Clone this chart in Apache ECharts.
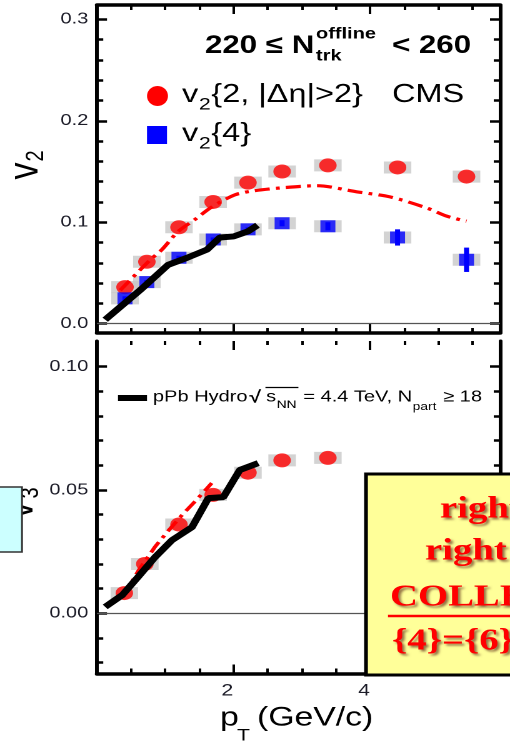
<!DOCTYPE html>
<html>
<head>
<meta charset="utf-8">
<script src="https://cdn.jsdelivr.net/npm/echarts@6/dist/echarts.min.js"></script>
<style>
  html, body { margin: 0; padding: 0; background: #fff; overflow: hidden; }
  #wrap { width: 408px; height: 743px; transform: scaleX(1.25); transform-origin: 0 0; }
  #chart { width: 408px; height: 743px; }
</style>
</head>
<body>
<div id="wrap"><div id="chart"></div></div>
<script>
// horizontal stretch of the whole figure
const S = 1.25;
const X = px => px / S;

// ---- tick positions / labels ----
const ptMajorTicks = [2, 4];
const ptMinorTicks = [0.5, 1, 1.5, 2.5, 3, 3.5, 4.5, 5, 5.5];
const v2MajorTicks = [0, 0.1, 0.2, 0.3];
const v2MinorTicks = [0.02, 0.04, 0.06, 0.08, 0.12, 0.14, 0.16, 0.18, 0.22, 0.24, 0.26, 0.28];
const v3MajorTicks = [0, 0.05, 0.1];
const v3MinorTicks = [-0.02, -0.01, 0.01, 0.02, 0.03, 0.04, 0.06, 0.07, 0.08, 0.09];

// ---- v2 panel data ----
const ptV2 = [0.41, 0.73, 1.20, 1.70, 2.21, 2.71, 3.38, 4.40, 5.41];
const v2Two = [0.036, 0.061, 0.095, 0.120, 0.139, 0.150, 0.156, 0.154, 0.145];
const v2Four = [0.025, 0.041, 0.065, 0.083, 0.093, 0.099, 0.096, 0.085, 0.063];
const v2FourErr = [0.002, 0.002, 0.002, 0.002, 0.002, 0.003, 0.004, 0.008, 0.012];

const hydroV2Pt = [0.12, 0.63, 1.04, 1.32, 1.61, 1.80, 2.00, 2.21, 2.35];
const hydroV2 = [0.004, 0.033, 0.058, 0.065, 0.073, 0.085, 0.086, 0.091, 0.097];

const curveV2Pt = [0.34, 0.78, 0.95, 1.19, 1.44, 1.68, 2.02, 2.30, 2.72, 3.22, 3.80, 4.29, 4.83, 5.12, 5.41];
const curveV2 = [0.033, 0.063, 0.073, 0.091, 0.103, 0.115, 0.127, 0.131, 0.134, 0.136, 0.130, 0.125, 0.114, 0.106, 0.101];

// ---- v3 panel data ----
const ptV3 = [0.40, 0.70, 1.20, 1.70, 2.21, 2.71, 3.38];
const v3Two = [0.0082, 0.020, 0.036, 0.048, 0.057, 0.062, 0.063];

const hydroV3Pt = [0.12, 0.37, 0.60, 0.85, 1.10, 1.39, 1.63, 1.85, 2.09, 2.36];
const hydroV3 = [0.0026, 0.0074, 0.0147, 0.0228, 0.0297, 0.0349, 0.0467, 0.0471, 0.0581, 0.0609];

const curveV3Pt = [0.38, 0.60, 0.85, 1.03, 1.25, 1.44, 1.68];
const curveV3 = [0.0066, 0.0170, 0.0270, 0.0330, 0.0400, 0.0455, 0.0528];

const zip = (a, b) => a.map((v, i) => [v, b[i]]);

const SANS = '"Liberation Sans", Arial, Helvetica, sans-serif';
const SERIF = '"Liberation Serif", "Times New Roman", serif';

// one axis drawing either the major or the minor ticks of a frame side
function frameAxis(dim, grid, position, min, max, ticks, len, o) {
  o = o || {};
  const ax = {
    type: 'value', gridIndex: grid, position, min, max,
    axisLine: { show: !!o.line, onZero: false, lineStyle: { color: '#000', width: o.lw || 3 } },
    axisTick: { show: true, inside: true, length: len, customValues: ticks,
                lineStyle: { color: '#000', width: dim === 'x' ? 2 : 2.5 } },
    axisLabel: { show: false },
    splitLine: { show: false },
    minorTick: { show: false }
  };
  if (o.labels) {
    ax.axisLabel = Object.assign({ show: true, customValues: ticks, fontSize: 16,
      fontFamily: SANS, color: '#1c1c28' }, o.labels);
  }
  return ax;
}

const g0 = { min: -0.00917, max: 0.3141 };
const g1 = { min: -0.0244, max: 0.1104 };
const ptMin = 0, ptMax = 5.9;

const xAxis = [
  frameAxis('x', 0, 'bottom', ptMin, ptMax, ptMajorTicks, 9, { line: true, lw: 3.5 }),
  frameAxis('x', 0, 'bottom', ptMin, ptMax, ptMinorTicks, 5),
  frameAxis('x', 0, 'top', ptMin, ptMax, ptMajorTicks, 9, { line: true, lw: 3.5 }),
  frameAxis('x', 0, 'top', ptMin, ptMax, ptMinorTicks, 5),
  frameAxis('x', 1, 'bottom', ptMin, ptMax, ptMajorTicks, 9, { line: true, lw: 3.5,
    labels: { margin: 9, fontSize: 17, padding: [0, 10, 0, 0], formatter: v => String(v) } }),
  frameAxis('x', 1, 'bottom', ptMin, ptMax, ptMinorTicks, 5),
  frameAxis('x', 1, 'top', ptMin, ptMax, ptMajorTicks, 9),
  frameAxis('x', 1, 'top', ptMin, ptMax, ptMinorTicks, 4)
];
const yAxis = [
  frameAxis('y', 0, 'left', g0.min, g0.max, v2MajorTicks, 8, { line: true,
    labels: { margin: 7, formatter: v => v.toFixed(1) } }),
  frameAxis('y', 0, 'left', g0.min, g0.max, v2MinorTicks, 5),
  frameAxis('y', 0, 'right', g0.min, g0.max, v2MajorTicks, 8, { line: true }),
  frameAxis('y', 0, 'right', g0.min, g0.max, v2MinorTicks, 5),
  frameAxis('y', 1, 'left', g1.min, g1.max, v3MajorTicks, 8, { line: true,
    labels: { margin: 7, formatter: v => v.toFixed(2) } }),
  frameAxis('y', 1, 'left', g1.min, g1.max, v3MinorTicks, 5),
  frameAxis('y', 1, 'right', g1.min, g1.max, v3MajorTicks, 8, { line: true }),
  frameAxis('y', 1, 'right', g1.min, g1.max, v3MinorTicks, 5)
];

const zeroLine = color => ({
  silent: true, symbol: ['none', 'none'], label: { show: false },
  lineStyle: { color, width: 1.2, type: 'solid' }, data: [{ yAxis: 0 }]
});

function sysBoxes(xi, yi, data, withZero) {
  const s = { type: 'scatter', xAxisIndex: xi, yAxisIndex: yi, data, symbol: 'rect',
    symbolSize: [22, 12], itemStyle: { color: '#c8c8c8' }, z: 1, silent: true };
  if (withZero) s.markLine = zeroLine(withZero);
  return s;
}

function errorBars(xi, yi, data, color) {
  return {
    type: 'custom', xAxisIndex: xi, yAxisIndex: yi, data, z: 2, silent: true,
    renderItem: (params, api) => {
      const x = api.value(0), y = api.value(1), e = api.value(2);
      const a = api.coord([x, y - e]), b = api.coord([x, y + e]);
      return { type: 'line', shape: { x1: a[0], y1: a[1], x2: b[0], y2: b[1] },
               style: { stroke: color, lineWidth: 4 } };
    }
  };
}

const dashDot = [12, 5, 3, 5];

const series = [
  // v2 panel
  sysBoxes(0, 0, zip(ptV2, v2Two), '#555'),
  sysBoxes(0, 0, zip(ptV2, v2Four)),
  errorBars(0, 0, ptV2.map((p, i) => [p, v2Four[i], v2FourErr[i]]), '#0000ff'),
  { type: 'scatter', xAxisIndex: 0, yAxisIndex: 0, data: zip(ptV2, v2Two), symbol: 'circle',
    symbolSize: 14, itemStyle: { color: '#ff0000' }, z: 3 },
  { type: 'scatter', xAxisIndex: 0, yAxisIndex: 0, data: zip(ptV2, v2Four), symbol: 'rect',
    symbolSize: 12, itemStyle: { color: '#0000ff' }, z: 3 },
  { type: 'line', xAxisIndex: 0, yAxisIndex: 0, data: zip(curveV2Pt, curveV2), smooth: 0.3,
    showSymbol: false, symbol: 'none', lineStyle: { color: '#ff0000', width: 3.2, type: dashDot }, z: 4 },
  { type: 'line', xAxisIndex: 0, yAxisIndex: 0, data: zip(hydroV2Pt, hydroV2),
    showSymbol: false, symbol: 'none', lineStyle: { color: '#000', width: 6 }, z: 5 },
  // v3 panel
  sysBoxes(4, 4, zip(ptV3, v3Two), '#555'),
  { type: 'scatter', xAxisIndex: 4, yAxisIndex: 4, data: zip(ptV3, v3Two), symbol: 'circle',
    symbolSize: 14, itemStyle: { color: '#ff0000' }, z: 3 },
  { type: 'line', xAxisIndex: 4, yAxisIndex: 4, data: zip(curveV3Pt, curveV3),
    showSymbol: false, symbol: 'none', lineStyle: { color: '#ff0000', width: 3.2, type: dashDot }, z: 4 },
  { type: 'line', xAxisIndex: 4, yAxisIndex: 4, data: zip(hydroV3Pt, hydroV3),
    showSymbol: false, symbol: 'none', lineStyle: { color: '#000', width: 6 }, z: 5 }
];

function txt(x, y, text, font, extra) {
  return Object.assign({
    type: 'text', x, y, z: 50,
    style: Object.assign({ text, font, fill: '#000', textAlign: 'left', textVerticalAlign: 'middle',
                           align: 'left', verticalAlign: 'middle' }, (extra && extra.style) || {})
  }, extra && extra.el || {});
}

// lays text pieces one after another (subscripts follow their base letters)
const measureCtx = document.createElement('canvas').getContext('2d');
function textWidth(text, font) { measureCtx.font = font; return measureCtx.measureText(text).width; }
function flow(x0, pieces, out) {
  let x = x0;
  const marks = [];
  pieces.forEach(p => {
    x += p.gap || 0;
    marks.push(x);
    out.push(txt(x, p.y, p.t, p.font));
    x += textWidth(p.t, p.font);
  });
  marks.push(x);
  return marks;
}

const boxTextStyle = { fill: '#ff0000', textShadowColor: 'rgba(60,0,0,0.55)', textShadowOffsetX: 2,
  textShadowOffsetY: 2, textShadowBlur: 2 };
const boldSerif = 'bold 31px ' + SERIF;
const f16 = '16px ' + SANS, f11 = '11px ' + SANS, f26 = '26px ' + SANS, f17 = '17px ' + SANS;

const graphic = [
  // multiplicity bin
  txt(X(205), 46, '220 \u2264 N', 'bold 25px ' + SANS),
  txt(X(316), 34, 'offline', 'bold 16px ' + SANS),
  txt(X(316), 56, 'trk', 'bold 16px ' + SANS),
  txt(X(392), 46, '< 260', 'bold 25px ' + SANS),
  // legend symbols of the v2 panel
  { type: 'ellipse', shape: { cx: X(157.5), cy: 96, rx: 8.4, ry: 10 }, style: { fill: '#ff0000' }, z: 50 },
  { type: 'rect', shape: { x: X(147), y: 126, width: 16, height: 18 }, style: { fill: '#0000ff' }, z: 50 },
  txt(X(392), 95, 'CMS', f26),
  // legend line of the v3 panel
  { type: 'rect', shape: { x: X(118), y: 395, width: X(29), height: 6 }, style: { fill: '#000' }, z: 50 },
  // axis titles
  txt(X(26), 171, 'v', '34px ' + SANS, { el: { rotation: Math.PI / 2 }, style: { textAlign: 'center', align: 'center' } }),
  txt(X(36), 156, '2', '20px ' + SANS, { el: { rotation: Math.PI / 2 }, style: { textAlign: 'center', align: 'center' } }),
  txt(X(21), 510, 'v', '34px ' + SANS, { el: { rotation: Math.PI / 2 }, style: { textAlign: 'center', align: 'center' } }),
  txt(X(31), 493, '3', '20px ' + SANS, { el: { rotation: Math.PI / 2 }, style: { textAlign: 'center', align: 'center' } }),
  txt(X(220), 718, 'p', '27px ' + SANS),
  txt(X(237), 736, 'T', '17px ' + SANS),
  txt(X(257), 718, '(GeV/c)', '27px ' + SANS),
  // side panels
  { type: 'rect', shape: { x: -4, y: 487, width: X(22) + 4, height: 65 },
    style: { fill: '#ccffff', stroke: '#333', lineWidth: 1.5 }, z: 60 },
  { type: 'rect', shape: { x: X(366), y: 474, width: 130, height: 201 },
    style: { fill: '#ffff99', stroke: '#000', lineWidth: 3 }, z: 60 },
  txt(X(440), 509.5, 'right', boldSerif, { el: { z: 61 }, style: boxTextStyle }),
  txt(X(425), 551.5, 'right', boldSerif, { el: { z: 61 }, style: boxTextStyle }),
  txt(X(390), 597.5, 'COLLECTIVE', boldSerif, { el: { z: 61 }, style: boxTextStyle }),
  { type: 'line', shape: { x1: X(388), y1: 616, x2: 420, y2: 616 }, style: { stroke: '#ff0000', lineWidth: 2.5 }, z: 61 },
  txt(X(392), 641.5, '{4}={6}', boldSerif, { el: { z: 61 }, style: boxTextStyle })
];

// v2 legend entries
flow(X(182), [
  { t: 'v', font: f26, y: 95 },
  { t: '2', font: f17, y: 105, gap: 0.5 },
  { t: '{2, |\u0394\u03b7|>2}', font: f26, y: 95, gap: 0.5 }
], graphic);
flow(X(182), [
  { t: 'v', font: f26, y: 134 },
  { t: '2', font: f17, y: 144, gap: 0.5 },
  { t: '{4}', font: f26, y: 134, gap: 0.5 }
], graphic);

// hydro legend text
const hm = flow(X(153), [
  { t: 'pPb Hydro', font: f16, y: 397 },
  { t: '\u221a', font: 'bold 17px ' + SANS, y: 398, gap: 1.5 },
  { t: 's', font: f16, y: 397, gap: 4 },
  { t: 'NN', font: f11, y: 405, gap: 0.5 },
  { t: ' = 4.4 TeV, N', font: f16, y: 397, gap: 1 },
  { t: 'part', font: f11, y: 407, gap: 0.5 },
  { t: ' \u2265 18', font: f16, y: 397, gap: 1 }
], graphic);
graphic.push({ type: 'line', shape: { x1: hm[2] - 0.5, y1: 387.5, x2: hm[4] + 0.5, y2: 387.5 },
  style: { stroke: '#000', lineWidth: 1.2 }, z: 50 });

const chart = echarts.init(document.getElementById('chart'), null, { renderer: 'canvas', devicePixelRatio: 2 });
chart.setOption({
  animation: false,
  backgroundColor: '#fff',
  grid: [
    { left: X(97), top: 5, width: X(403), height: 328, outerBoundsMode: 'none', containLabel: false },
    { left: X(97), top: 341, width: X(403), height: 332.5, outerBoundsMode: 'none', containLabel: false }
  ],
  xAxis, yAxis, series, graphic
});
</script>
</body>
</html>
